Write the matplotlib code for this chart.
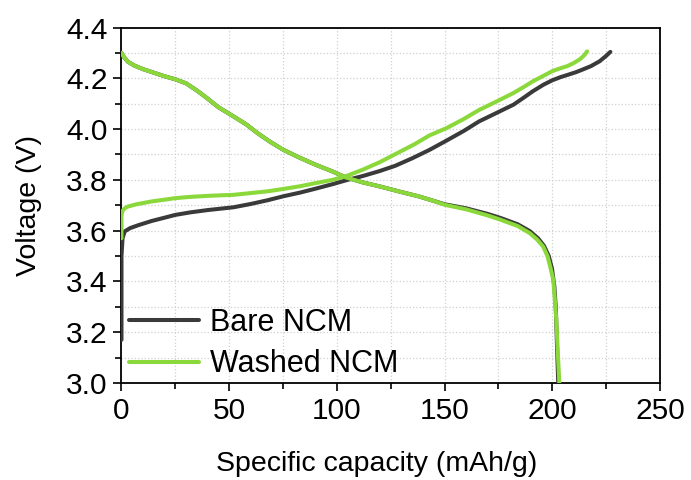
import numpy as np
import matplotlib
matplotlib.use("Agg")
import matplotlib.pyplot as plt
from matplotlib.ticker import MultipleLocator

plt.rcParams['font.family'] = ['Liberation Sans', 'DejaVu Sans']

# charge curves
bare_chg_x = [0, 0, 0.5, 1.5, 4, 8, 14, 20, 25, 32, 40, 52, 60, 68, 75, 83, 90, 98, 105, 112, 120,
              127, 135, 143, 151, 159, 166, 174, 182, 187, 191, 196, 200, 204, 207, 211, 214, 218,
              222, 225, 227]
bare_chg_y = [3.17, 3.50, 3.57, 3.597, 3.61, 3.622, 3.638, 3.651, 3.662, 3.672, 3.681, 3.692, 3.705,
              3.72, 3.735, 3.75, 3.765, 3.783, 3.80, 3.815, 3.835, 3.855, 3.885, 3.918, 3.955, 3.993,
              4.03, 4.063, 4.096, 4.125, 4.149, 4.175, 4.192, 4.205, 4.213, 4.224, 4.234, 4.248,
              4.267, 4.288, 4.304]
washed_chg_x = [0, 0, 0.5, 1.5, 3, 7, 14, 20, 25, 32, 40, 52, 60, 68, 75, 83, 90, 98, 105, 112, 120,
                128, 136, 143, 151, 159, 166, 174, 182, 187, 191, 196, 200, 204, 207, 210, 213, 215,
                216.2]
washed_chg_y = [3.57, 3.66, 3.678, 3.688, 3.695, 3.704, 3.715, 3.722, 3.728, 3.733, 3.737, 3.741,
                3.748, 3.755, 3.764, 3.775, 3.787, 3.80, 3.817, 3.84, 3.87, 3.905, 3.94, 3.975,
                4.004, 4.04, 4.075, 4.108, 4.142, 4.167, 4.188, 4.21, 4.228, 4.24, 4.248, 4.26,
                4.276, 4.292, 4.306]

# discharge curves
bare_dis_x = [0, 1, 3, 6, 10, 15, 20, 25, 30, 35, 40, 45, 52, 58, 63, 69, 75, 82, 90, 98, 104, 112,
              120, 129, 138, 145, 150, 160, 170, 176, 184, 189.6, 193.4, 196.2, 198.4, 199.9,
              201.0, 201.7, 202.2, 202.8]
bare_dis_y = [4.30, 4.285, 4.265, 4.25, 4.236, 4.222, 4.208, 4.196, 4.18, 4.152, 4.12, 4.086, 4.05,
              4.018, 3.985, 3.95, 3.919, 3.89, 3.86, 3.833, 3.81, 3.79, 3.774, 3.754, 3.735, 3.717,
              3.704, 3.688, 3.666, 3.65, 3.625, 3.598, 3.57, 3.54, 3.5, 3.45, 3.38, 3.29, 3.15, 3.0]
washed_dis_x = [0, 1, 3, 6, 10, 15, 20, 25, 30, 35, 40, 45, 52, 58, 63, 69, 75, 82, 90, 98, 104, 112,
                120, 129, 138, 145, 150, 160, 170, 176, 184, 189.6, 193.0, 195.8, 197.8, 199.3,
                200.5, 201.2, 201.9, 202.6, 203.3]
washed_dis_y = [4.30, 4.285, 4.265, 4.25, 4.236, 4.222, 4.208, 4.196, 4.18, 4.152, 4.12, 4.086, 4.05,
                4.018, 3.985, 3.95, 3.919, 3.89, 3.86, 3.833, 3.81, 3.79, 3.774, 3.754, 3.735, 3.717,
                3.702, 3.684, 3.66, 3.643, 3.618, 3.59, 3.565, 3.537, 3.5, 3.45, 3.406, 3.33, 3.248,
                3.12, 3.0]

labels = ["Bare NCM", "Washed NCM"]
colors = ['#3a3a3a', '#8ad83a']

fig = plt.figure(figsize=(6.91, 4.80), dpi=100)
ax = fig.add_axes([0.1758, 0.2021, 0.955 - 0.1758, 0.9427 - 0.2021])

ax.plot(bare_chg_x, bare_chg_y, color=colors[0], lw=2.9, solid_capstyle='round', label=labels[0], zorder=3)
ax.plot(bare_dis_x, bare_dis_y, color=colors[0], lw=2.9, solid_capstyle='round', zorder=3)
ax.plot(washed_chg_x, washed_chg_y, color=colors[1], lw=2.9, solid_capstyle='round', label=labels[1], zorder=4)
ax.plot(washed_dis_x, washed_dis_y, color=colors[1], lw=2.9, solid_capstyle='round', zorder=4)

ax.set_xlim(0, 250)
ax.set_ylim(3.0, 4.4)
ax.xaxis.set_major_locator(MultipleLocator(50))
ax.xaxis.set_minor_locator(MultipleLocator(25))
ax.yaxis.set_major_locator(MultipleLocator(0.2))
ax.yaxis.set_minor_locator(MultipleLocator(0.1))
ax.yaxis.set_major_formatter(plt.FormatStrFormatter('%.1f'))

ax.grid(True, which='both', color='#d0d0d0', linestyle=':', linewidth=0.9)
ax.set_axisbelow(True)

ax.tick_params(which='major', direction='out', length=6, width=1.2, labelsize=21.5, pad=4)
ax.tick_params(which='minor', direction='out', length=4, width=1.2)
for s in ax.spines.values():
    s.set_linewidth(1.3)

ax.set_xlabel("Specific capacity (mAh/g)", fontsize=20.5)
ax.set_ylabel("Voltage (V)", fontsize=20.5)
ax.xaxis.set_label_coords(0.473, -0.19)
ax.yaxis.set_label_coords(-0.148, 0.5)

ax.legend(loc='lower left', bbox_to_anchor=(-0.026, -0.05), frameon=False, fontsize=22,
          handlelength=2.3, handletextpad=0.35, labelspacing=0.38, borderaxespad=0.3)

fig.savefig('out.png', dpi=100)
